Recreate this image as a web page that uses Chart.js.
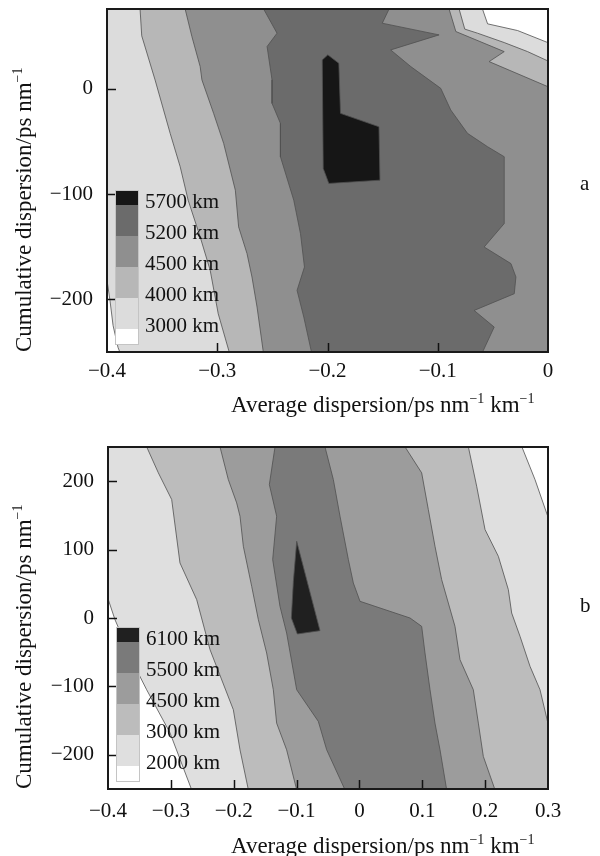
<!DOCTYPE html>
<html>
<head>
<meta charset="utf-8">
<title>Reach contours versus dispersion map</title>
<script src="https://cdn.jsdelivr.net/npm/chart.js@4.4.1/dist/chart.umd.min.js"></script>
<style>
  body { margin: 0; background: #fff; }
  #page { position: relative; width: 600px; height: 856px; overflow: hidden;
          font-family: "Liberation Serif", "Times New Roman", serif; color: #111; }
  canvas { position: absolute; left: 0; }
  #chartA { top: -40px; }
  #chartB { top: 400px; }
  .xtitle, .ytitle, .tag { position: absolute; white-space: nowrap; line-height: 24px; font-size: 23px; }
  .tag { font-size: 21px; }
  .ytitle { transform-origin: 0 0; transform: rotate(-90deg); }
  sup { font-size: 14px; line-height: 0; vertical-align: 9px; }
</style>
</head>
<body>
<div id="page">
  <canvas id="chartA" width="600" height="460"></canvas>
  <canvas id="chartB" width="600" height="456"></canvas>
  <div class="ytitle" style="left:12px; top:352px;">Cumulative dispersion/ps nm<sup>−1</sup></div>
  <div class="ytitle" style="left:12px; top:789px;">Cumulative dispersion/ps nm<sup>−1</sup></div>
  <div class="xtitle" style="left:231px; top:393px;">Average dispersion/ps nm<sup>−1</sup> km<sup>−1</sup></div>
  <div class="xtitle" style="left:231px; top:834px;">Average dispersion/ps nm<sup>−1</sup> km<sup>−1</sup></div>
  <div class="tag" style="left:580px; top:171px;">a</div>
  <div class="tag" style="left:580px; top:593px;">b</div>
</div>
<script>
// Panel a: axis ticks and contour levels
const xTicksA = [-0.4, -0.3, -0.2, -0.1, 0];
const yTicksA = [-200, -100, 0];
const levelsA = ['5700 km', '5200 km', '4500 km', '4000 km', '3000 km'];

// Panel a: contour regions [average dispersion, cumulative dispersion]
const aBand3000 = [[-0.5, 120], [-0.074, 120], [-0.0594, 75.9], [-0.0548, 61.9], [-0.0275, 55.5],
  [0.0012, 43.5], [0.03, 32], [0.05, 32], [0.05, -300], [-0.387, -300], [-0.387, -262],
  [-0.3882, -250.5], [-0.39, -245.7], [-0.3945, -224.8], [-0.3973, -201], [-0.4, -181.9],
  [-0.403, -165], [-0.5, -165]];
const aBand4000 = [[-0.372, 90], [-0.370, 75.9], [-0.3685, 50.5], [-0.3564, 8.6], [-0.3427, -42.2],
  [-0.3336, -74], [-0.3264, -105.7], [-0.3155, -140.6], [-0.3064, -172.4], [-0.2991, -213.7],
  [-0.2891, -250.2], [-0.2855, -263], [0.05, -300], [0.05, 15], [0.024, 15], [0.0012, 26],
  [-0.0185, 35.5], [-0.0397, 44.1], [-0.0639, 53], [-0.0755, 56.9], [-0.0806, 75.9], [-0.083, 90]];
const aBand4500 = [[-0.331, 88], [-0.3291, 75.9], [-0.3230, 49.8], [-0.3155, 21.3], [-0.3139, 8.6],
  [-0.3033, -23.2], [-0.2942, -51.7], [-0.2836, -96.2], [-0.2806, -131.1], [-0.2730, -156.5],
  [-0.2685, -178.7], [-0.2639, -207.3], [-0.2582, -250.2], [-0.2567, -262], [0.05, -300], [0.05, -8],
  [0.0227, -8], [0.0012, 1.6], [-0.0534, 26], [-0.0397, 35.5], [-0.0836, 54.6], [-0.0897, 75.9],
  [-0.093, 88]];
const aBand5200 = [[-0.2627, 85], [-0.2579, 75.9], [-0.2458, 53], [-0.2548, 40.3], [-0.2503, 8.6],
  [-0.2503, -13.7], [-0.2427, -32.7], [-0.2427, -64.4], [-0.2306, -105.7], [-0.2245, -137.5],
  [-0.2209, -169.2], [-0.2276, -191.4], [-0.2215, -216.8], [-0.2145, -250.2], [-0.212, -262],
  [-0.0646, -262], [-0.0594, -250.2], [-0.0488, -226.3], [-0.0670, -210.5], [-0.0306, -194.6],
  [-0.0291, -178.7], [-0.0336, -166], [-0.0579, -150.2], [-0.0397, -127.9], [-0.0397, -64.4],
  [-0.0548, -54.9], [-0.0730, -42.2], [-0.0882, -20], [-0.0973, 0.6], [-0.1245, 21.3],
  [-0.1427, 37.1], [-0.0988, 51.4], [-0.1503, 62.5], [-0.1442, 75.9], [-0.1401, 85]];
const aBand5700 = [[-0.2048, 27.6], [-0.1997, 32.4], [-0.1897, 24.4], [-0.1882, -23.2],
  [-0.1533, -35.9], [-0.1524, -86.7], [-0.1988, -89.8], [-0.2039, -75.6], [-0.2048, 27.6]];

// Panel b: axis ticks and contour levels
const xTicksB = [-0.4, -0.3, -0.2, -0.1, 0, 0.1, 0.2, 0.3];
const yTicksB = [-200, -100, 0, 100, 200];
const levelsB = ['6100 km', '5500 km', '4500 km', '3000 km', '2000 km'];

// Panel b: contour regions
const bBand2000 = [[-0.5, 40], [-0.4043, 40], [-0.3995, 26.8], [-0.3889, -2.4], [-0.3533, -78],
  [-0.3385, -104.9], [-0.3014, -167.8], [-0.2669, -251.2], [-0.2612, -265], [0.5, -300], [0.5, 130],
  [0.3067, 130], [0.3005, 146.3], [0.2793, 202.4], [0.2581, 251], [0.252, 265], [-0.5, 300]];
const bBand3000 = [[-0.3443, 262], [-0.3385, 250.2], [-0.3199, 212.2], [-0.2987, 173.2],
  [-0.2855, 80.5], [-0.2589, 26.8], [-0.2377, -46.3], [-0.2006, -134.1], [-0.1900, -192.7],
  [-0.1767, -251.2], [-0.1742, -262], [0.5, -300], [0.5, -175], [0.3054, -175], [0.3005, -156.1],
  [0.2873, -104.9], [0.2714, -70.7], [0.2555, -26.8], [0.2422, 7.3], [0.2369, 41.5], [0.2210, 90.2],
  [0.1998, 129.3], [0.1865, 192.7], [0.1733, 250.2], [0.1706, 262]];
const bBand4500 = [[-0.2251, 262], [-0.2218, 250.2], [-0.2086, 202.4], [-0.1953, 168.3],
  [-0.1900, 148.8], [-0.1847, 104.9], [-0.1714, 46.3], [-0.1608, -2.4], [-0.1476, -51.2],
  [-0.1370, -104.9], [-0.1317, -153.7], [-0.1158, -192.7], [-0.0998, -251.2], [-0.0968, -262],
  [0.2198, -262], [0.2157, -251.2], [0.1971, -202.4], [0.1892, -153.7], [0.1812, -104.9],
  [0.1600, -61], [0.1520, -12.2], [0.1308, 56.1], [0.1202, 104.9], [0.1096, 158.5], [0.0990, 212.2],
  [0.0725, 250.2], [0.0643, 262]];
const bBand5500 = [[-0.1324, 262], [-0.1343, 250.2], [-0.1433, 195.1], [-0.1317, 148.8],
  [-0.1380, 85.4], [-0.1264, 17.1], [-0.1158, -22], [-0.0998, -104.9], [-0.0654, -151.2],
  [-0.0521, -192.7], [-0.0230, -251.2], [-0.0176, -262], [0.1408, -262], [0.1388, -251.2],
  [0.1282, -192.7], [0.1202, -153.7], [0.1123, -104.9], [0.1043, -51.2], [0.0990, -12.2],
  [0.0805, 0], [0.0009, 24.4], [-0.0097, 51.2], [-0.0176, 85.4], [-0.0309, 148.8], [-0.0415, 202.4],
  [-0.0548, 250.2], [-0.0581, 262]];
const bBand6100 = [[-0.0998, 112.2], [-0.1051, 53.7], [-0.1083, 0], [-0.0988, -23.4],
  [-0.0627, -18.5], [-0.0998, 112.2]];

Chart.defaults.font.family = '"Liberation Serif", "Times New Roman", serif';
Chart.defaults.font.size = 21;
Chart.defaults.color = '#111';

// tick labels use a real minus sign
function signed(v) {
  return v < 0 ? '\u2212' + String(Math.abs(v)) : String(v);
}

// inward tick marks, colour key and frame
const decorPlugin = {
  id: 'decor',
  afterDatasetsDraw(chart, args, opts) {
    const { ctx, chartArea: a } = chart;
    const xs = chart.scales.x, ys = chart.scales.y;
    ctx.save();
    ctx.strokeStyle = '#111';
    ctx.lineWidth = 1.5;
    opts.xMarks.forEach(function(v) {
      const px = Math.round(xs.getPixelForValue(v)) + 0.5;
      ctx.beginPath(); ctx.moveTo(px, a.bottom); ctx.lineTo(px, a.bottom - 9); ctx.stroke();
    });
    opts.yMarks.forEach(function(v) {
      const py = Math.round(ys.getPixelForValue(v)) + 0.5;
      ctx.beginPath(); ctx.moveTo(a.left, py); ctx.lineTo(a.left + 9, py); ctx.stroke();
    });

    // colour key in the lower left corner
    const colors = opts.keyColors.concat(['#ffffff']);
    const heights = colors.map(function(c, i) { return (i === 0 || i === colors.length - 1) ? 15 : 31; });
    const total = heights.reduce(function(s, h) { return s + h; }, 0);
    const left = a.left + 8, w = 23;
    let top = a.bottom - 8 - total;
    ctx.font = '21px "Liberation Serif", "Times New Roman", serif';
    ctx.textBaseline = 'middle';
    ctx.textAlign = 'left';
    const startTop = top;
    colors.forEach(function(c, i) {
      ctx.fillStyle = c;
      ctx.fillRect(left, top, w, heights[i]);
      top += heights[i];
      if (i < opts.keyLabels.length) {
        ctx.fillStyle = '#111';
        ctx.fillText(opts.keyLabels[i], left + w + 7, top - 3);
      }
    });
    ctx.strokeStyle = '#c4c4c4';
    ctx.lineWidth = 1;
    ctx.strokeRect(left + 0.5, startTop + 0.5, w, total);

    ctx.strokeStyle = '#1a1a1a';
    ctx.lineWidth = 2;
    ctx.strokeRect(a.left, a.top, a.width, a.height);
    ctx.restore();
  }
};

function bandDataset(points, color, order) {
  return {
    data: points.map(function(p) { return { x: p[0], y: p[1] }; }),
    fill: 'shape',
    backgroundColor: color,
    borderColor: '#505050',
    borderWidth: 0.8,
    pointRadius: 0,
    pointHoverRadius: 0,
    tension: 0,
    order: order,
    clip: 0
  };
}

function makePanel(canvasId, bands, colors, cfg) {
  const datasets = bands.map(function(b, i) { return bandDataset(b, colors[i], bands.length - i); });
  return new Chart(document.getElementById(canvasId), {
    type: 'line',
    data: { datasets: datasets },
    options: {
      responsive: false,
      animation: false,
      events: [],
      layout: { padding: { top: cfg.top, right: 52, left: 0, bottom: 0 } },
      plugins: {
        legend: { display: false },
        tooltip: { enabled: false },
        decor: {
          xMarks: cfg.xTicks.slice(1, -1),
          yMarks: cfg.yTicks,
          keyColors: colors.slice().reverse(),
          keyLabels: cfg.levels
        }
      },
      scales: {
        x: {
          type: 'linear',
          min: cfg.xTicks[0],
          max: cfg.xTicks[cfg.xTicks.length - 1],
          grid: { display: false, drawTicks: false },
          border: { display: false },
          afterBuildTicks: function(s) { s.ticks = cfg.xTicks.map(function(v) { return { value: v }; }); },
          afterFit: function(s) { s.height = cfg.xHeight; },
          ticks: { padding: cfg.xPad, maxRotation: 0, autoSkip: false, callback: signed }
        },
        y: {
          type: 'linear',
          min: cfg.yMin,
          max: cfg.yMax,
          grid: { display: false, drawTicks: false },
          border: { display: false },
          afterBuildTicks: function(s) { s.ticks = cfg.yTicks.map(function(v) { return { value: v }; }); },
          afterFit: function(s) { s.width = cfg.yWidth; },
          ticks: { padding: 14, autoSkip: false, callback: signed }
        }
      }
    },
    plugins: [decorPlugin]
  });
}

makePanel('chartA',
  [aBand3000, aBand4000, aBand4500, aBand5200, aBand5700],
  ['#dcdcdc', '#b7b7b7', '#8f8f8f', '#6b6b6b', '#161616'],
  { xTicks: xTicksA, yTicks: yTicksA, levels: levelsA, yMin: -250, yMax: 76,
    top: 49, yWidth: 107, xHeight: 68, xPad: 7 });

makePanel('chartB',
  [bBand2000, bBand3000, bBand4500, bBand5500, bBand6100],
  ['#dfdfdf', '#bcbcbc', '#9c9c9c', '#7a7a7a', '#202020'],
  { xTicks: xTicksB, yTicks: yTicksB, levels: levelsB, yMin: -250, yMax: 250,
    top: 47, yWidth: 108, xHeight: 67, xPad: 10 });
</script>
</body>
</html>
